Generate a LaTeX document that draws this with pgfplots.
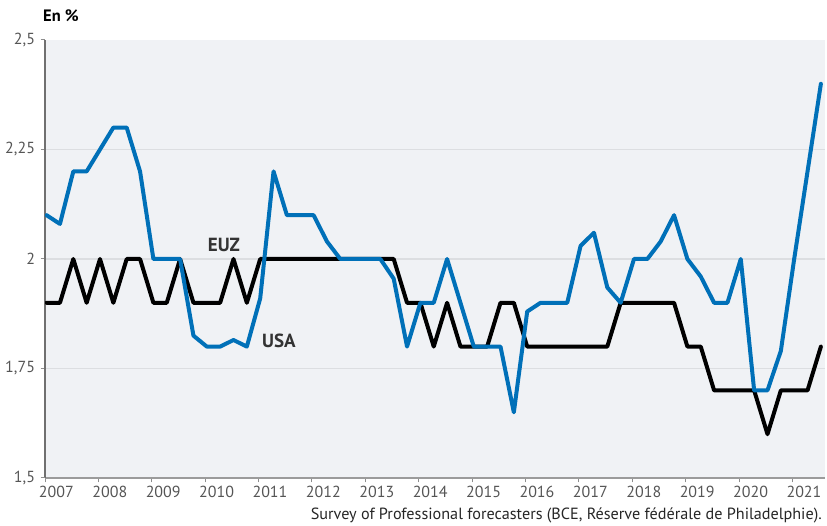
\documentclass[border=0pt]{standalone}
\usepackage{pgfplots}
\pgfplotsset{compat=1.18}
\usepackage{pgfplotstable}
\usepackage{fontspec}
\setmainfont{PT Sans}
\definecolor{usablue}{HTML}{0070B8}
\definecolor{bggray}{HTML}{F0F2F5}
\definecolor{gridgray}{HTML}{DCDEE1}
\definecolor{axisgray}{HTML}{707070}
\definecolor{labgray}{HTML}{555555}
\definecolor{txtgray}{HTML}{333333}

\pgfplotstableread{
x usa euz
2007.03 2.10 1.9
2007.28 2.08 1.9
2007.53 2.20 2.0
2007.78 2.20 1.9
2008.03 2.25 2.0
2008.28 2.30 1.9
2008.53 2.30 2.0
2008.78 2.20 2.0
2009.03 2.00 1.9
2009.28 2.00 1.9
2009.53 2.00 2.0
2009.78 1.825 1.9
2010.03 1.80 1.9
2010.28 1.80 1.9
2010.53 1.815 2.0
2010.78 1.80 1.9
2011.03 1.91 2.0
2011.28 2.20 2.0
2011.53 2.10 2.0
2011.78 2.10 2.0
2012.03 2.10 2.0
2012.28 2.04 2.0
2012.53 2.00 2.0
2012.78 2.00 2.0
2013.03 2.00 2.0
2013.28 2.00 2.0
2013.53 1.955 2.0
2013.78 1.80 1.9
2014.03 1.90 1.9
2014.28 1.90 1.8
2014.53 2.00 1.9
2014.78 1.90 1.8
2015.03 1.80 1.8
2015.28 1.80 1.8
2015.53 1.80 1.9
2015.78 1.65 1.9
2016.03 1.88 1.8
2016.28 1.90 1.8
2016.53 1.90 1.8
2016.78 1.90 1.8
2017.03 2.03 1.8
2017.28 2.06 1.8
2017.53 1.935 1.8
2017.78 1.90 1.9
2018.03 2.00 1.9
2018.28 2.00 1.9
2018.53 2.04 1.9
2018.78 2.10 1.9
2019.03 2.00 1.8
2019.28 1.96 1.8
2019.53 1.90 1.7
2019.78 1.90 1.7
2020.03 2.00 1.7
2020.28 1.70 1.7
2020.53 1.70 1.6
2020.78 1.79 1.7
2021.03 2.00 1.7
2021.28 2.20 1.7
2021.53 2.40 1.8
}\data

\begin{document}
\begin{tikzpicture}
\useasboundingbox (0,0) rectangle (827pt,526pt);
\begin{axis}[
  at={(45pt,48pt)}, anchor=south west,
  scale only axis, width=780pt, height=438pt,
  xmin=2007, xmax=2021.607, ymin=1.5, ymax=2.5,
  axis lines*=left,
  x axis line style={axisgray!70, line width=2pt},
  y axis line style={axisgray, line width=1.6pt},
  axis background/.style={fill=bggray},
  ytick={1.75,2,2.25},
  yticklabels={{1,75},{2},{2,25}},
  extra y ticks={1.5,2.5},
  extra y tick labels={{1,5},{2,5}},
  extra y tick style={grid=none},
  ymajorgrids,
  grid style={gridgray, line width=1.2pt},
  xtick={2007,2008,2009,2010,2011,2012,2013,2014,2015,2016,2017,2018,2019,2020,2021},
  xticklabels={2007,2008,2009,2010,2011,2012,2013,2014,2015,2016,2017,2018,2019,2020,2021},
  tick align=outside,
  major tick length=4.5pt,
  tick style={axisgray!80, line width=1pt},
  yticklabel style={font=\fontsize{16}{16}\selectfont, text=labgray, xshift=-2pt},
  xticklabel style={font=\fontsize{16}{16}\selectfont, text=labgray, xshift=11.4pt},
]
\addplot[black, line width=4pt, line join=round, line cap=round] table[x=x,y=euz]{\data};
\addplot[usablue, line width=4pt, line join=round, line cap=round] table[x=x,y=usa]{\data};
\node[font=\bfseries\fontsize{19}{19}\selectfont, text=txtgray] at (axis cs:2010.35,2.031) {EUZ};
\node[font=\bfseries\fontsize{19}{19}\selectfont, text=txtgray] at (axis cs:2011.38,1.812) {USA};
\end{axis}
\node[anchor=west, font=\bfseries\fontsize{16.5}{16.5}\selectfont, text=black, inner sep=0pt] at (43pt,510.5pt) {En \%};
\node[anchor=east, font=\fontsize{16.2}{16.2}\selectfont, text=black!85, inner sep=0pt] at (822pt,11pt) {Survey of Professional forecasters (BCE, Réserve fédérale de Philadelphie).};
\end{tikzpicture}
\end{document}
